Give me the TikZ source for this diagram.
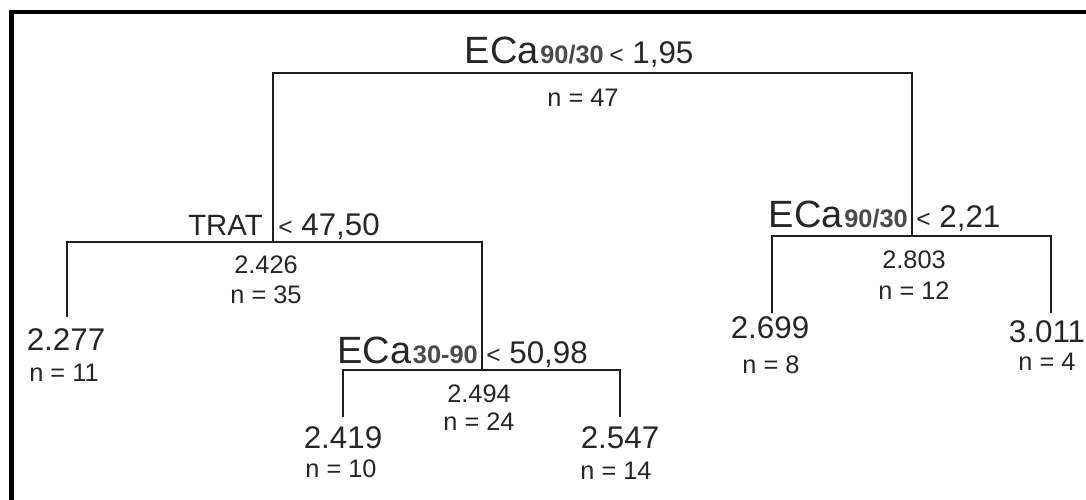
\documentclass[tikz,border=0pt]{standalone}
\usepackage{fontspec}
\setmainfont{Liberation Sans}
\definecolor{ink}{HTML}{262626}
\definecolor{subink}{HTML}{4A4A4A}
\definecolor{edgeink}{HTML}{1E1E1E}
% font size helper (size in pt)
\newcommand{\fsz}[1]{\fontsize{#1}{#1}\selectfont}
% split variable with its subscript-like suffix
\newcommand{\splitvar}[2]{{\fsz{28.5}#1}\kern1.2pt{\fsz{19}\bfseries\color{subink}#2}}
% threshold with a smaller "<"
\newcommand{\thr}[1]{{\fsz{18.5}<}\fsz{23.5}\ #1}
\tikzset{
  lbl/.style={inner sep=0pt, text=ink},
  varlbl/.style={lbl, anchor=base east},
  thrlbl/.style={lbl, anchor=base west},
  stat/.style={lbl, anchor=base, font=\fsz{19}},
  leafval/.style={lbl, anchor=base, font=\fsz{23.5}},
  branch/.style={draw=edgeink, line width=1.3pt, line cap=rect},
  frame/.style={draw=black, line width=3.6pt}
}
\begin{document}
\begin{tikzpicture}[x=0.75pt, y=-0.75pt]
\useasboundingbox (0,0) rectangle (1086,500);

% outer frame (left and top sides)
\draw[frame] (11.5,500) -- (11.5,12) -- (1086,12);

% split points and leaf tips
\coordinate (rootL) at (273,73);
\coordinate (rootR) at (912,73);
\coordinate (tratS) at (273,242);
\coordinate (tratL) at (67,242);
\coordinate (tratR) at (482,242);
\coordinate (leafA) at (67,316);
\coordinate (ecaS) at (482,370);
\coordinate (ecaL) at (343,370);
\coordinate (ecaR) at (620,370);
\coordinate (leafB) at (343,416);
\coordinate (leafC) at (620,416);
\coordinate (rgtS) at (912,236);
\coordinate (rgtL) at (772,236);
\coordinate (rgtR) at (1051,236);
\coordinate (leafD) at (772,312);
\coordinate (leafE) at (1051,312);

% branches
\draw[branch] (tratS) -- (rootL) -- (rootR) -- (rgtS);
\draw[branch] (leafA) -- (tratL) -- (tratR) -- (ecaS);
\draw[branch] (leafB) -- (ecaL) -- (ecaR) -- (leafC);
\draw[branch] (leafD) -- (rgtL) -- (rgtR) -- (leafE);

% root split
\node[varlbl] (rootvar) at (604,63) {\splitvar{ECa}{90/30}};
\node[thrlbl] (rootthr) at (609,63) {\thr{1,95}};
\node[stat] (rootn) at (583,106) {n = 47};

% TRAT split
\node[varlbl, font=\fsz{22}] (tratvar) at (263,235) {TRAT};
\node[thrlbl] (tratthr) at (278,235) {\thr{47,50}};
\node[stat] (tratmean) at (266,273) {2.426};
\node[stat] (tratn) at (266,303) {n = 35};

% leaf 2.277
\node[leafval] (leafAval) at (66,350) {2.277};
\node[stat] (leafAn) at (64,381) {n = 11};

% ECa 30-90 split
\node[varlbl] (ecavar) at (478,363) {\splitvar{ECa}{30-90}};
\node[thrlbl] (ecathr) at (486,363) {\thr{50,98}};
\node[stat] (ecamean) at (479,402) {2.494};
\node[stat] (ecan) at (479,430) {n = 24};

% leaves 2.419 and 2.547
\node[leafval] (leafBval) at (343,448) {2.419};
\node[stat] (leafBn) at (341,477) {n = 10};
\node[leafval] (leafCval) at (620,448) {2.547};
\node[stat] (leafCn) at (616,479) {n = 14};

% right split
\node[varlbl] (rgtvar) at (908,227) {\splitvar{ECa}{90/30}};
\node[thrlbl] (rgtthr) at (916,227) {\thr{2,21}};
\node[stat] (rgtmean) at (914,268) {2.803};
\node[stat] (rgtn) at (914,299) {n = 12};

% leaves 2.699 and 3.011
\node[leafval] (leafDval) at (770,338) {2.699};
\node[stat] (leafDn) at (771,373) {n = 8};
\node[leafval] (leafEval) at (1047,342) {3.011};
\node[stat] (leafEn) at (1047,370) {n = 4};
\end{tikzpicture}
\end{document}
